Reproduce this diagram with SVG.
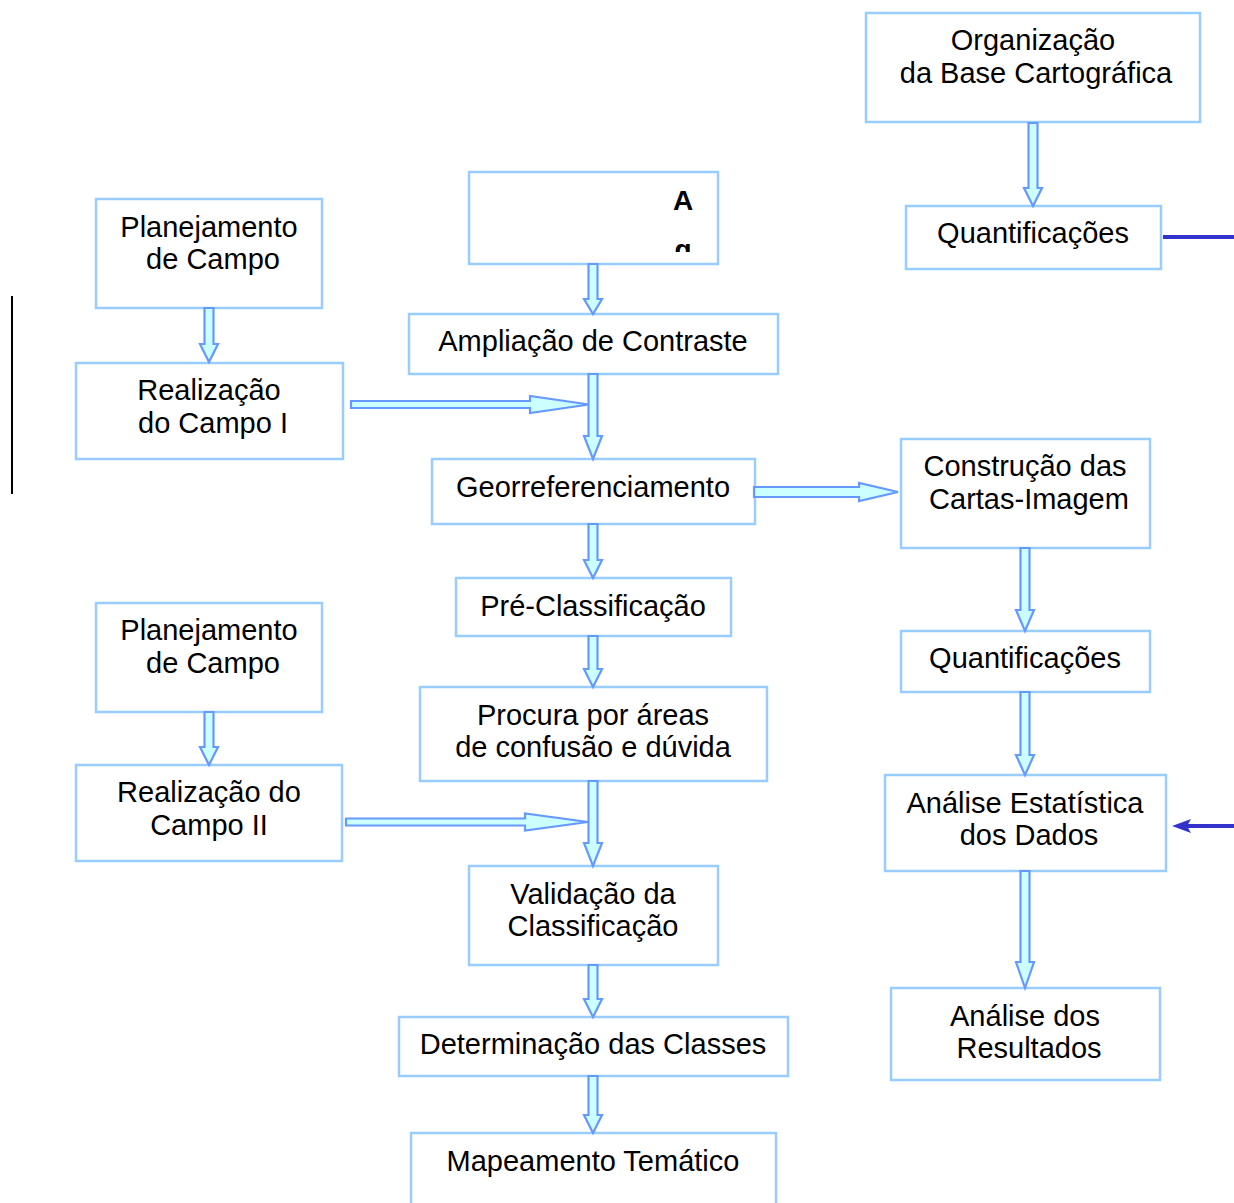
<svg xmlns="http://www.w3.org/2000/svg" width="1234" height="1203" viewBox="0 0 1234 1203">
<style>
.box{fill:#ffffff;stroke:#99ccff;stroke-width:2.5}
.t{font-family:"Liberation Sans",Arial,sans-serif;font-size:29px;fill:#000;text-anchor:middle}
.ar{fill:#ccffff;stroke:#6699ff;stroke-width:2.2;stroke-linejoin:miter}
.dk{stroke:#3333cc;stroke-width:4;fill:none}
</style>
<defs>
<clipPath id="clipA"><rect x="470" y="173" width="247" height="79"/></clipPath>
</defs>
<rect width="1234" height="1203" fill="#ffffff"/>
<line x1="12" y1="296" x2="12" y2="494" stroke="#000" stroke-width="2"/>

<g id="n-org"><rect class="box" x="866" y="13" width="334" height="109"/><text class="t" x="1033" y="50">Organização</text><text class="t" x="1036" y="83">da Base Cartográfica</text></g>
<g id="n-quant1"><rect class="box" x="906" y="206" width="255" height="63"/><text class="t" x="1033" y="243">Quantificações</text></g>
<g id="n-a"><rect class="box" x="469" y="172" width="249" height="92"/><g clip-path="url(#clipA)"><text class="t" x="683" y="210" style="font-weight:bold;font-size:28px">A</text><text class="t" x="683" y="259" style="font-weight:bold;font-size:28px">g</text></g></g>
<g id="n-plan1"><rect class="box" x="96" y="199" width="226" height="109"/><text class="t" x="209" y="237">Planejamento</text><text class="t" x="213" y="269">de Campo</text></g>
<g id="n-amp"><rect class="box" x="409" y="314" width="369" height="60"/><text class="t" x="593" y="351">Ampliação de Contraste</text></g>
<g id="n-real1"><rect class="box" x="76" y="363" width="267" height="96"/><text class="t" x="209" y="400">Realização</text><text class="t" x="213" y="433">do Campo I</text></g>
<g id="n-geo"><rect class="box" x="432" y="459" width="323" height="65"/><text class="t" x="593" y="497">Georreferenciamento</text></g>
<g id="n-constr"><rect class="box" x="901" y="439" width="249" height="109"/><text class="t" x="1025" y="476">Construção das</text><text class="t" x="1029" y="509">Cartas-Imagem</text></g>
<g id="n-pre"><rect class="box" x="456" y="578" width="275" height="58"/><text class="t" x="593" y="616">Pré-Classificação</text></g>
<g id="n-plan2"><rect class="box" x="96" y="603" width="226" height="109"/><text class="t" x="209" y="640">Planejamento</text><text class="t" x="213" y="673">de Campo</text></g>
<g id="n-quant2"><rect class="box" x="901" y="631" width="249" height="61"/><text class="t" x="1025" y="668">Quantificações</text></g>
<g id="n-procura"><rect class="box" x="420" y="687" width="347" height="94"/><text class="t" x="593" y="725">Procura por áreas</text><text class="t" x="593" y="757">de confusão e dúvida</text></g>
<g id="n-real2"><rect class="box" x="76" y="765" width="266" height="96"/><text class="t" x="209" y="802">Realização do</text><text class="t" x="209" y="835">Campo II</text></g>
<g id="n-analise"><rect class="box" x="885" y="775" width="281" height="96"/><text class="t" x="1025" y="813">Análise Estatística</text><text class="t" x="1029" y="845">dos Dados</text></g>
<g id="n-valid"><rect class="box" x="469" y="866" width="249" height="99"/><text class="t" x="593" y="904">Validação da</text><text class="t" x="593" y="936">Classificação</text></g>
<g id="n-result"><rect class="box" x="891" y="988" width="269" height="92"/><text class="t" x="1025" y="1026">Análise dos</text><text class="t" x="1029" y="1058">Resultados</text></g>
<g id="n-determ"><rect class="box" x="399" y="1017" width="389" height="59"/><text class="t" x="593" y="1054">Determinação das Classes</text></g>
<g id="n-map"><rect class="box" x="411" y="1133" width="365" height="80"/><text class="t" x="593" y="1171">Mapeamento Temático</text></g>

<g id="connectors">
<path class="ar" d="M1028.5,123 L1037.5,123 L1037.5,188 L1042,188 L1033,206 L1024,188 L1028.5,188 Z"/>
<path class="ar" d="M588.5,264 L597.5,264 L597.5,299 L602,299 L593,314 L584,299 L588.5,299 Z"/>
<path class="ar" d="M204.5,308 L213.5,308 L213.5,344 L218,344 L209,362 L200,344 L204.5,344 Z"/>
<path class="ar" d="M351,401 L530,401 L530,396 L589,404.5 L530,413 L530,408 L351,408 Z"/>
<path class="ar" d="M588.5,374 L597.5,374 L597.5,436 L602,436 L593,459 L584,436 L588.5,436 Z"/>
<path class="ar" d="M754,487 L859,487 L859,483 L898,492 L859,501 L859,497 L754,497 Z"/>
<path class="ar" d="M588.5,524 L597.5,524 L597.5,560 L602,560 L593,578 L584,560 L588.5,560 Z"/>
<path class="ar" d="M1020.5,548 L1029.5,548 L1029.5,610 L1034,610 L1025,631 L1016,610 L1020.5,610 Z"/>
<path class="ar" d="M588.5,636 L597.5,636 L597.5,669 L602,669 L593,687 L584,669 L588.5,669 Z"/>
<path class="ar" d="M204.5,712 L213.5,712 L213.5,747 L218,747 L209,765 L200,747 L204.5,747 Z"/>
<path class="ar" d="M1020.5,692 L1029.5,692 L1029.5,755 L1034,755 L1025,775 L1016,755 L1020.5,755 Z"/>
<path class="ar" d="M346,818.5 L525,818.5 L525,813.5 L588,822 L525,830.5 L525,825.5 L346,825.5 Z"/>
<path class="ar" d="M588.5,781 L597.5,781 L597.5,843 L602,843 L593,866 L584,843 L588.5,843 Z"/>
<path class="ar" d="M1020.5,871 L1029.5,871 L1029.5,962 L1034,962 L1025,988 L1016,962 L1020.5,962 Z"/>
<path class="ar" d="M588.5,965 L597.5,965 L597.5,999 L602,999 L593,1017 L584,999 L588.5,999 Z"/>
<path class="ar" d="M588.5,1076 L597.5,1076 L597.5,1115 L602,1115 L593,1133 L584,1115 L588.5,1115 Z"/>
<line class="dk" x1="1163" y1="237" x2="1234" y2="237"/>
<line class="dk" x1="1186" y1="826" x2="1234" y2="826"/>
<path d="M1172,826 L1191,819 L1187,826 L1191,833 Z" fill="#3333cc"/>
</g>
</svg>
